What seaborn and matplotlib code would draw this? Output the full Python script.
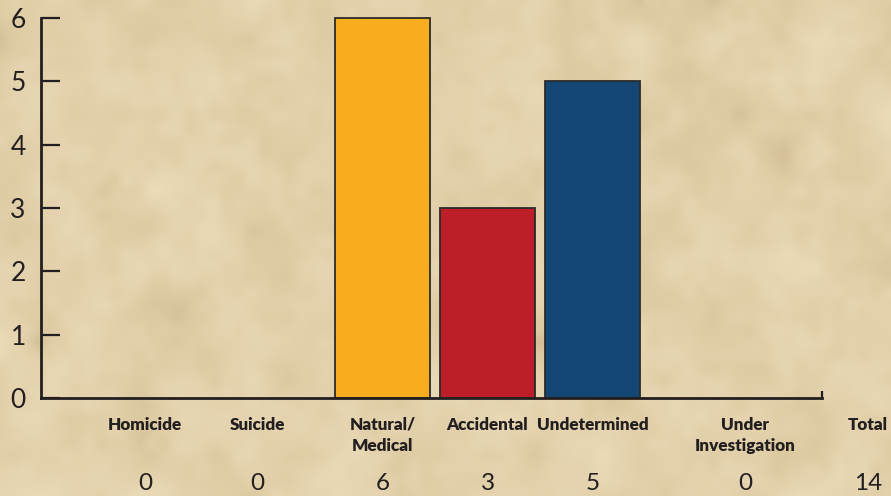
import matplotlib
matplotlib.use("Agg")
import matplotlib.pyplot as plt
import seaborn as sns
import pandas as pd
import numpy as np
from matplotlib.colors import LinearSegmentedColormap

# Case counts by manner of death
categories = ["Homicide", "Suicide", "Natural/\nMedical", "Accidental",
              "Undetermined", "Under\nInvestigation"]
counts = [0, 0, 6, 3, 5, 0]
total_label = "Total"
y_ticks = [0, 1, 2, 3, 4, 5, 6]

# Layout: horizontal centre of each category column (axis units)
x_pos = [145, 257, 382.5, 487.5, 592.5, 745]
x_total = 868
bar_colors = ["#F9AC1E", "#F9AC1E", "#F9AC1E", "#BE1E27", "#134673", "#134673"]

BG = "#E2D0A8"
INK = "#231F20"

sns.set_theme(style="white")
plt.rcParams["font.family"] = ["Lato", "DejaVu Sans"]

W, H = 891, 496
fig = plt.figure(figsize=(W / 100, H / 100), dpi=100, facecolor=BG)

# Parchment backdrop: soft mottled texture
bg_ax = fig.add_axes([0, 0, 1, 1], zorder=-10)
rng = np.random.default_rng(7)
coarse = rng.normal(size=(14, 26))
fine = rng.normal(size=(40, 72))
def upsample(a, shape):
    yi = np.linspace(0, a.shape[0] - 1, shape[0])
    xi = np.linspace(0, a.shape[1] - 1, shape[1])
    tmp = np.array([np.interp(xi, np.arange(a.shape[1]), row) for row in a])
    return np.array([np.interp(yi, np.arange(a.shape[0]), col) for col in tmp.T]).T
field = upsample(coarse, (124, 223)) + 0.45 * upsample(fine, (124, 223))
field = (field - field.min()) / (field.max() - field.min())
parch = LinearSegmentedColormap.from_list(
    "parch", ["#CDB78E", "#DCC9A0", "#E4D3AE", "#EBDCBA"])
bg_ax.imshow(field, cmap=parch, aspect="auto", interpolation="bicubic",
             extent=[0, 1, 0, 1], vmin=0, vmax=1)
bg_ax.set_axis_off()

ax = fig.add_axes([41 / W, (H - 398) / H, (822 - 41) / W, (398 - 18) / H])
ax.set_facecolor("none")

df = pd.DataFrame({"x": x_pos, "count": counts, "category": categories})
sns.barplot(data=df, x="x", y="count", hue="category", palette=bar_colors,
            native_scale=True, width=95 / 105, edgecolor="#2b2b2b",
            linewidth=1.3, legend=False, saturation=1, ax=ax)
for p in ax.patches:
    p.set_clip_on(False)
    if p.get_height() == 0:
        p.set_visible(False)

ax.set_xlim(41, 822)
ax.set_ylim(0, 6)
ax.set_yticks(y_ticks)
ax.set_yticklabels([str(t) for t in y_ticks], fontsize=19, color=INK,
                   fontweight="normal")
ax.set_xticks([822])
ax.set_xticklabels([""])
ax.tick_params(axis="y", direction="in", length=14, width=1.6, color=INK,
               pad=11, left=True)
ax.tick_params(axis="x", direction="in", length=5, width=1.6, color=INK,
               bottom=True)
ax.set_xlabel("")
ax.set_ylabel("")
sns.despine(ax=ax, top=True, right=True)
for s in ("left", "bottom"):
    ax.spines[s].set_linewidth(2.0)
    ax.spines[s].set_color(INK)

trans = ax.get_xaxis_transform()
names = categories + [total_label]
values = counts + [sum(counts)]
xs = x_pos + [x_total]
for x, name, v in zip(xs, names, values):
    ax.text(x, -0.05, name, transform=trans, ha="center", va="top",
            fontsize=12.3, fontweight="heavy", color=INK, linespacing=1.35,
            clip_on=False)
    ax.text(x, -0.224, str(v), transform=trans, ha="center", va="center",
            fontsize=17.5, fontweight="normal", color=INK, clip_on=False)

fig.savefig("out.png", dpi=100, facecolor=BG)
